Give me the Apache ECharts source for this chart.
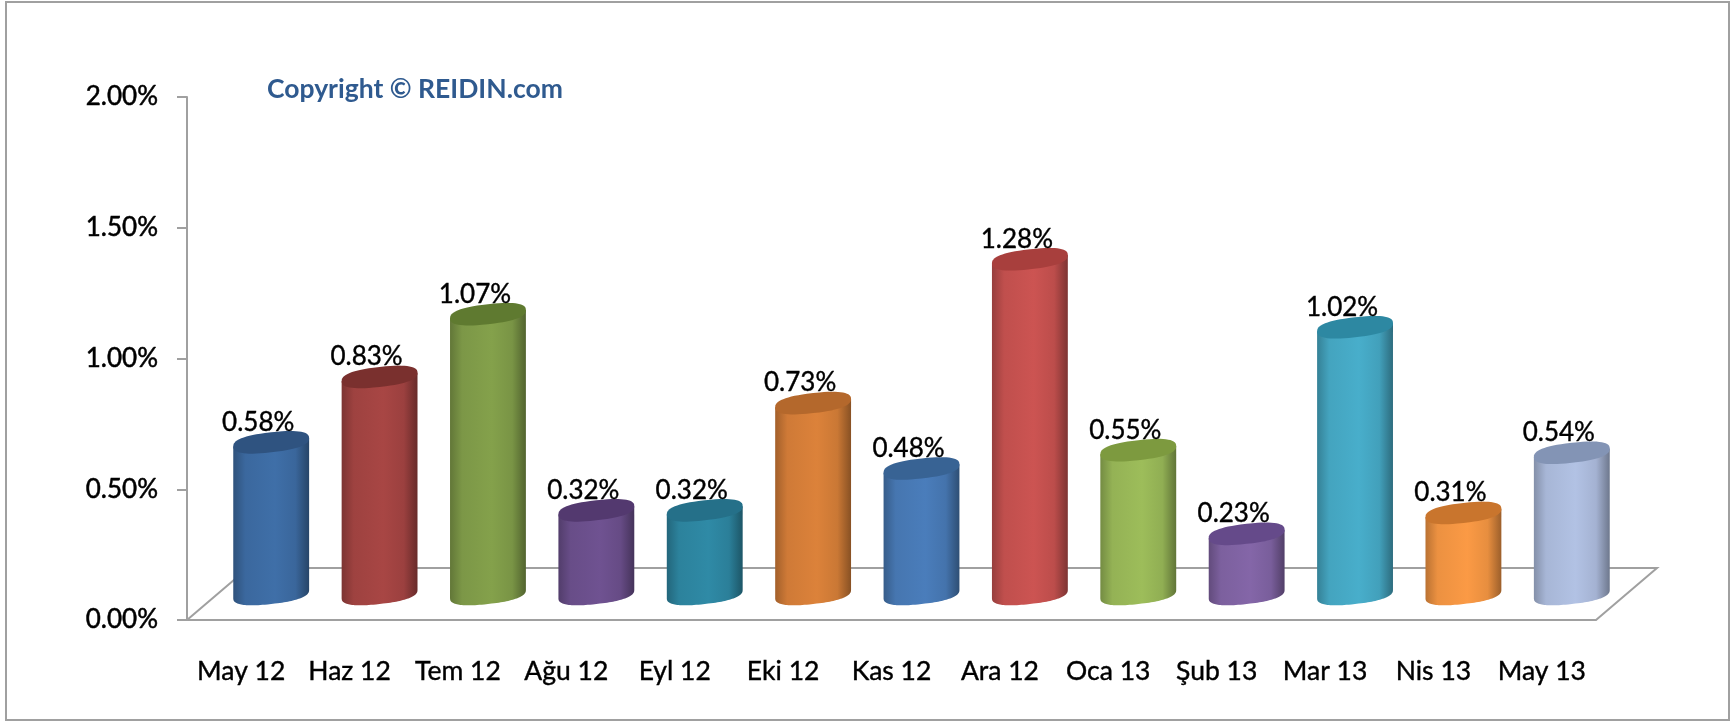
<!DOCTYPE html>
<html>
<head>
<meta charset="utf-8">
<style>
    html, body { margin: 0; padding: 0; background: #fff; }
    #chart { width: 1736px; height: 721px; }
</style>
<script src="https://cdn.jsdelivr.net/npm/echarts@6/dist/echarts.min.js"></script>
</head>
<body>
<div id="chart"></div>
<script>
var categories = ['May 12', 'Haz 12', 'Tem 12', 'Ağu 12', 'Eyl 12', 'Eki 12', 'Kas 12', 'Ara 12', 'Oca 13', 'Şub 13', 'Mar 13', 'Nis 13', 'May 13'];
var values = [0.58, 0.83, 1.07, 0.32, 0.32, 0.73, 0.48, 1.28, 0.55, 0.23, 1.02, 0.31, 0.54];
var barColors = ['#3f6fa8', '#a84644', '#84a14b', '#6f5291', '#2f8aa6', '#dc823a', '#4a7dbb', '#cc5452', '#9dbd5a', '#8466a8', '#48aecb', '#fb9a45', '#b2c2e4'];
var topColors = ['#2f5380', '#7a302e', '#5f7a30', '#53396f', '#257089', '#b4682c', '#386394', '#a83f3d', '#7d9a3f', '#654a8a', '#2d88a2', '#c9752d', '#8394b5'];
var yTicks = { min: 0, max: 2, step: 0.5 };

(function () {
    'use strict';
    var myChart = echarts.init(document.getElementById('chart'));
    var fontName = 'Lato, "Noto Sans", sans-serif';
    var lineColor = '#a0a0a0';
    // the floor of the fake 3D box, bars stand on it and not on the axis
    var depthX = 61, depthY = 52;
    var barShiftX = 30, barShiftY = 26;
    var tilt = 0.11;

    function shade(color, factor) {
        var c = echarts.color.parse(color);
        return 'rgb(' + Math.round(c[0] * factor) + ',' + Math.round(c[1] * factor) + ',' + Math.round(c[2] * factor) + ')';
    }

    // exponent under 1 makes the ends blunter, closer to the reference caps
    function ellipsePoints(cx, cy, rx, ry, from, to) {
        var pts = [];
        for (var i = 0; i <= 60; i++) {
            var t = from + (to - from) * i / 60;
            var ct = Math.cos(t), st = Math.sin(t);
            var dx = rx * (ct < 0 ? -1 : 1) * Math.pow(Math.abs(ct), 0.8);
            var dy = ry * (st < 0 ? -1 : 1) * Math.pow(Math.abs(st), 0.8);
            pts.push([cx + dx, cy + dy - tilt * dx]);
        }
        return pts;
    }

    function renderFloor(params) {
        var c = params.coordSys;
        var left = c.x, right = c.x + c.width, bottom = c.y + c.height;
        return {
            type: 'polyline',
            shape: {
                points: [
                    [left, bottom],
                    [left + depthX, bottom - depthY],
                    [right + depthX, bottom - depthY],
                    [right, bottom]
                ]
            },
            style: { fill: null, stroke: lineColor, lineWidth: 2 }
        };
    }

    function renderBar(params, api) {
        var i = api.value(0);
        var top = api.coord([i, api.value(1)]);
        var base = api.coord([i, 0]);
        var band = api.size([1, 0])[0];
        var rx = band * 0.35, ry = 10;
        var cx = top[0] + barShiftX;
        var yTop = top[1] - barShiftY;
        var yBase = base[1] - barShiftY;
        var color = barColors[i];
        var edgeLeft = shade(color, 0.74);
        var edgeRight = shade(color, 0.62);

        // outline: down the right side, round the base, up the left side
        var body = ellipsePoints(cx, yBase, rx, ry, 0, Math.PI);
        body.push([cx - rx, yTop + tilt * rx]);
        body.push([cx + rx, yTop - tilt * rx]);

        return {
            type: 'group',
            children: [{
                type: 'polygon',
                shape: { points: body },
                style: {
                    fill: new echarts.graphic.LinearGradient(0, 0, 1, 0, [
                        { offset: 0, color: edgeLeft },
                        { offset: 0.16, color: shade(color, 0.94) },
                        { offset: 0.55, color: color },
                        { offset: 0.82, color: shade(color, 0.92) },
                        { offset: 1, color: edgeRight }
                    ])
                }
            }, {
                type: 'polygon',
                shape: { points: ellipsePoints(cx, yTop, rx, ry, 0, Math.PI * 2) },
                style: { fill: topColors[i] }
            }, {
                type: 'text',
                z2: 10,
                style: {
                    text: api.value(1).toFixed(2) + '%',
                    x: cx - 13,
                    y: yTop - 20,
                    textAlign: 'center',
                    textVerticalAlign: 'middle',
                    fontFamily: fontName,
                    fontSize: 26,
                    fill: '#000',
                    stroke: '#000',
                    lineWidth: 0.4
                }
            }]
        };
    }

    var option = {
        animation: false,
        backgroundColor: '#fff',
        title: {
            text: 'Copyright © REIDIN.com',
            left: 262,
            top: 71,
            textStyle: { color: '#2f5a8f', fontFamily: fontName, fontSize: 26.5, fontWeight: 'bold' }
        },
        graphic: [{
            type: 'rect',
            silent: true,
            shape: { x: 6, y: 2, width: 1723, height: 718 },
            style: { fill: null, stroke: lineColor, lineWidth: 2 }
        }],
        grid: { left: 187, right: 140, top: 97, bottom: 101 },
        xAxis: {
            type: 'category',
            data: categories,
            axisLine: { lineStyle: { color: lineColor, width: 2 } },
            axisTick: { length: 10, lineStyle: { color: lineColor, width: 2 } },
            axisLabel: {
                color: '#000',
                fontFamily: fontName,
                fontSize: 26.5,
                margin: 38,
                interval: 0,
                textBorderColor: '#000',
                textBorderWidth: 0.4
            }
        },
        yAxis: {
            type: 'value',
            min: yTicks.min,
            max: yTicks.max,
            interval: yTicks.step,
            splitLine: { show: false },
            axisLine: { show: true, lineStyle: { color: lineColor, width: 2 } },
            axisTick: { show: true, length: 10, lineStyle: { color: lineColor, width: 2 } },
            axisLabel: {
                color: '#000',
                fontFamily: fontName,
                fontSize: 26,
                margin: 29,
                textBorderColor: '#000',
                textBorderWidth: 0.5,
                formatter: function (val) { return val.toFixed(2) + '%'; }
            }
        },
        series: [{
            type: 'custom',
            silent: true,
            z: 1,
            renderItem: renderFloor,
            encode: { x: 0, y: 1 },
            data: [[0, 0]]
        }, {
            type: 'custom',
            z: 2,
            clip: false,
            renderItem: renderBar,
            encode: { x: 0, y: 1 },
            data: values.map(function (v, i) { return [i, v]; })
        }]
    };
    myChart.setOption(option);
})();
</script>
</body>
</html>
